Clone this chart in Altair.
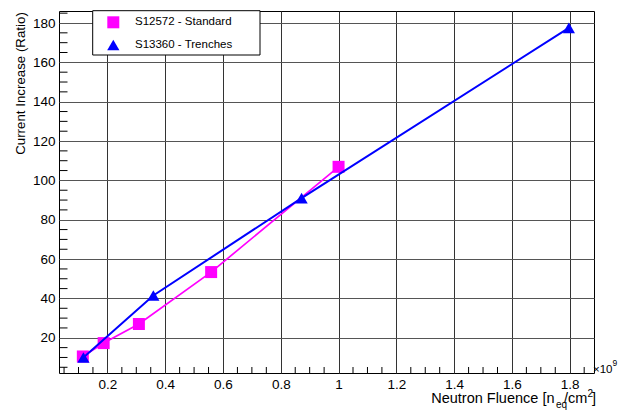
import altair as alt
import pandas as pd

series_names = ["S12572 - Standard", "S13360 - Trenches"]
series_colors = ["#ff00ff", "#0000ff"]

std_x = [0.115, 0.187, 0.309, 0.559, 1.0]
std_y = [10.5, 17.3, 27.0, 53.4, 106.9]

tr_x = [0.117, 0.359, 0.872, 1.797]
tr_y = [10.0, 41.5, 91.0, 177.5]

x_major = [0.2, 0.4, 0.6, 0.8, 1.0, 1.2, 1.4, 1.6, 1.8]
y_major = [20, 40, 60, 80, 100, 120, 140, 160, 180]
x_minor = [0.05, 0.1, 0.15, 0.25, 0.3, 0.35, 0.45, 0.5, 0.55, 0.65, 0.7, 0.75,
           0.85, 0.9, 0.95, 1.05, 1.1, 1.15, 1.25, 1.3, 1.35, 1.45, 1.5, 1.55,
           1.65, 1.7, 1.75, 1.85]
y_minor = [5, 10, 15, 25, 30, 35, 45, 50, 55, 65, 70, 75, 85, 90, 95, 105, 110,
           115, 125, 130, 135, 145, 150, 155, 165, 170, 175, 185]

x_title_parts = ["Neutron Fluence [n", "eq", "/cm", "2", "]"]
y_title = "Current Increase (Ratio)"
x_multiplier = ["\u00d710", "9"]

FONT = "Liberation Sans"
W, H = 535, 362

xscale = alt.Scale(domain=[0.0325, 1.884], nice=False, zero=False)
yscale = alt.Scale(domain=[2.1, 186.1], nice=False, zero=False)

xaxis = alt.Axis(values=x_major, format=".1~f", grid=True, gridColor="#333333",
                 gridWidth=1, ticks=False, domain=False, labelFontSize=13.5,
                 labelFont=FONT, labelColor="black", labelPadding=4,
                 labelFlush=False, title=None)
yaxis = alt.Axis(values=y_major, format="d", grid=True, gridColor="#555555",
                 gridWidth=1, ticks=False, domain=False, labelFontSize=13.5,
                 labelFont=FONT, labelColor="black", labelPadding=4,
                 labelFlush=False, title=None)

X = lambda: alt.X("x:Q", scale=xscale, axis=xaxis, title=None)
Y = lambda: alt.Y("y:Q", scale=yscale, axis=yaxis, title=None)

df_std = pd.DataFrame({"x": std_x, "y": std_y})
df_tr = pd.DataFrame({"x": tr_x, "y": tr_y})
df_xm = pd.DataFrame({"x": x_minor})
df_ym = pd.DataFrame({"y": y_minor})

xminor_layer = alt.Chart(df_xm).mark_rule(color="black", strokeWidth=1).encode(
    x=X(), y=alt.value(H), y2=alt.value(H - 6),
)
yminor_layer = alt.Chart(df_ym).mark_rule(color="black", strokeWidth=1).encode(
    y=Y(), x=alt.value(0), x2=alt.value(8.5),
)


def series(df, color, shape, size, sw):
    line = alt.Chart(df).mark_line(color=color, strokeWidth=sw).encode(x=X(), y=Y())
    pts = alt.Chart(df).mark_point(shape=shape, filled=True, size=size,
                                   color=color, opacity=1).encode(x=X(), y=Y())
    return [line, pts]


std_layers = series(df_std, series_colors[0], "square", 144, 1.7)
tr_layers = series(df_tr, series_colors[1], "triangle-up", 150, 2)

one = pd.DataFrame({"a": [0]})

legend_box = alt.Chart(one).mark_rect(fill="white", stroke="black",
                                      strokeWidth=1).encode(
    x=alt.value(33.7), x2=alt.value(201), y=alt.value(-0.3), y2=alt.value(44)
)
leg_sq = alt.Chart(one).mark_point(shape="square", filled=True, size=144,
                                   color=series_colors[0], opacity=1).encode(
    x=alt.value(54.3), y=alt.value(11.3))
leg_tri = alt.Chart(one).mark_point(shape="triangle-up", filled=True, size=150,
                                    color=series_colors[1], opacity=1).encode(
    x=alt.value(54.3), y=alt.value(34))


def txt(s, x, y, size, align="left", baseline="alphabetic", angle=0):
    kw = dict(text=s, font=FONT, fontSize=size, color="black", align=align,
              baseline=baseline)
    if angle:
        kw["angle"] = angle
    return alt.Chart(one).mark_text(**kw).encode(x=alt.value(x), y=alt.value(y))


leg_t1 = txt(series_names[0], 76, 11.3, 11.5, baseline="middle")
leg_t2 = txt(series_names[1], 76, 34, 11.5, baseline="middle")

xt1 = txt(x_title_parts[0], 495.5, 392, 14.5, align="right")
xt2 = txt(x_title_parts[1], 497, 397, 10)
xt3 = txt(x_title_parts[2], 505, 392, 14.5)
xt4 = txt(x_title_parts[3], 528.5, 386, 10)
xt5 = txt(x_title_parts[4], 533, 392, 14.5)

mult1 = txt(x_multiplier[0], 534, 361.5, 11.5)
mult2 = txt(x_multiplier[1], 553.5, 355, 8.5)

yt = txt(y_title, -34.5, 72.5, 13.3, align="center", angle=270)

chart = alt.layer(
    xminor_layer, yminor_layer, *std_layers, *tr_layers,
    legend_box, leg_sq, leg_tri, leg_t1, leg_t2,
    xt1, xt2, xt3, xt4, xt5, mult1, mult2, yt,
).properties(
    width=W, height=H,
    autosize=alt.AutoSizeParams(type="none"),
    padding={"left": 51, "top": 3, "right": 24, "bottom": 40},
).configure_view(stroke="black", strokeWidth=1)

chart.save("out.html", embed_options={"renderer": "svg", "actions": False})
